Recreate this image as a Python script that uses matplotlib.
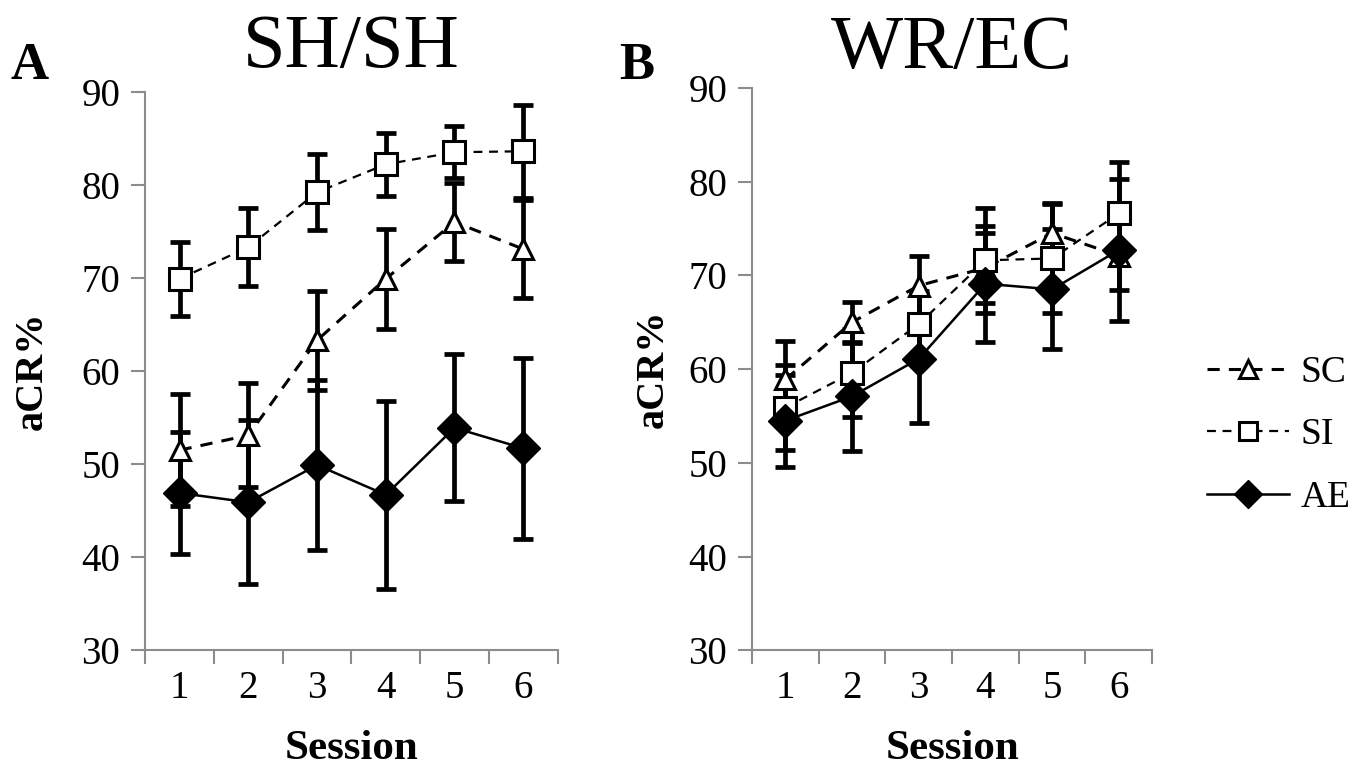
import matplotlib.pyplot as plt
import numpy as np

plt.rcParams['font.family'] = ['Liberation Serif', 'DejaVu Serif']

sessions = [1, 2, 3, 4, 5, 6]

# panel A: SH/SH
a_sc = [51.5, 53.1, 63.3, 69.9, 76.0, 73.1]
a_sc_err = [6.0, 5.6, 5.3, 5.4, 4.2, 5.3]
a_si = [69.9, 73.3, 79.2, 82.2, 83.5, 83.6]
a_si_err = [4.0, 4.2, 4.1, 3.4, 2.8, 5.0]
a_ae = [46.9, 45.9, 49.9, 46.7, 53.9, 51.7]
a_ae_err = [6.6, 8.8, 9.1, 10.1, 7.9, 9.7]

# panel B: WR/EC
b_sc = [58.9, 65.0, 68.9, 70.8, 74.5, 72.1]
b_sc_err = [4.1, 2.2, 3.2, 3.7, 3.2, 3.7]
b_si = [55.9, 59.6, 64.8, 71.6, 71.8, 76.6]
b_si_err = [4.5, 4.7, 3.5, 5.6, 5.8, 5.5]
b_ae = [54.5, 57.1, 61.1, 69.1, 68.5, 72.7]
b_ae_err = [4.9, 5.8, 6.9, 6.2, 6.4, 7.6]

fig = plt.figure(figsize=(13.7, 7.77), dpi=100)
axA = fig.add_axes([0.106, 0.163, 0.301, 0.719])
axB = fig.add_axes([0.549, 0.163, 0.292, 0.724])

grey = '#8c8c8c'


def draw_panel(ax, sc, sc_err, si, si_err, ae, ae_err, title, letter, lx, ypad, tpad):
    x = np.array(sessions)
    # error bars first, markers on top
    for y, e in [(sc, sc_err), (si, si_err), (ae, ae_err)]:
        ax.errorbar(x, y, yerr=e, fmt='none', ecolor='black', elinewidth=3.4,
                    capsize=7, capthick=3.4, zorder=2)
    ax.plot(x, sc, ls=(0, (4, 3)), color='black', lw=2.2, marker='^',
            ms=15, mfc='white', mec='black', mew=2.2, zorder=3, label='SC')
    ax.plot(x, si, ls=(0, (4, 3)), color='black', lw=1.6, marker='s',
            ms=16, mfc='white', mec='black', mew=2.2, zorder=3, label='SI')
    ax.plot(x, ae, ls='-', color='black', lw=1.8, marker='D',
            ms=17, mfc='black', mec='black', zorder=4, label='AE')

    ax.set_xlim(0.5, 6.5)
    ax.set_ylim(30, 90)
    ax.set_yticks(range(30, 91, 10))
    ax.set_xticks(sessions)
    ax.set_xticks(np.arange(0.5, 6.6, 1), minor=True)
    ax.tick_params(axis='x', which='major', length=0, labelsize=28, pad=14)
    ax.tick_params(axis='x', which='minor', length=10, width=1.5, color=grey)
    ax.tick_params(axis='y', length=10, width=1.5, color=grey, labelsize=28, pad=8)
    for side in ['top', 'right']:
        ax.spines[side].set_visible(False)
    for side in ['left', 'bottom']:
        ax.spines[side].set_color(grey)
        ax.spines[side].set_linewidth(1.5)

    ax.set_xlabel('Session', fontsize=31, fontweight='bold', labelpad=17)
    ax.set_ylabel('aCR%', fontsize=29, fontweight='bold', labelpad=ypad)
    ax.set_title(title, fontsize=55, pad=tpad)
    fig.text(lx, 0.915, letter, fontsize=38, fontweight='bold', va='center')


draw_panel(axA, a_sc, a_sc_err, a_si, a_si_err, a_ae, a_ae_err, 'SH/SH', 'A', 0.008, 22, 18)
draw_panel(axB, b_sc, b_sc_err, b_si, b_si_err, b_ae, b_ae_err, 'WR/EC', 'B', 0.452, 12, 14)

handles, labels = axB.get_legend_handles_labels()
fig.legend(handles, labels, loc='center left', bbox_to_anchor=(0.881, 0.44),
           frameon=False, fontsize=27, handlelength=2.2, labelspacing=0.75,
           handletextpad=0.3, borderaxespad=0, borderpad=0, markerscale=0.85)

fig.savefig('out.png', dpi=100)
